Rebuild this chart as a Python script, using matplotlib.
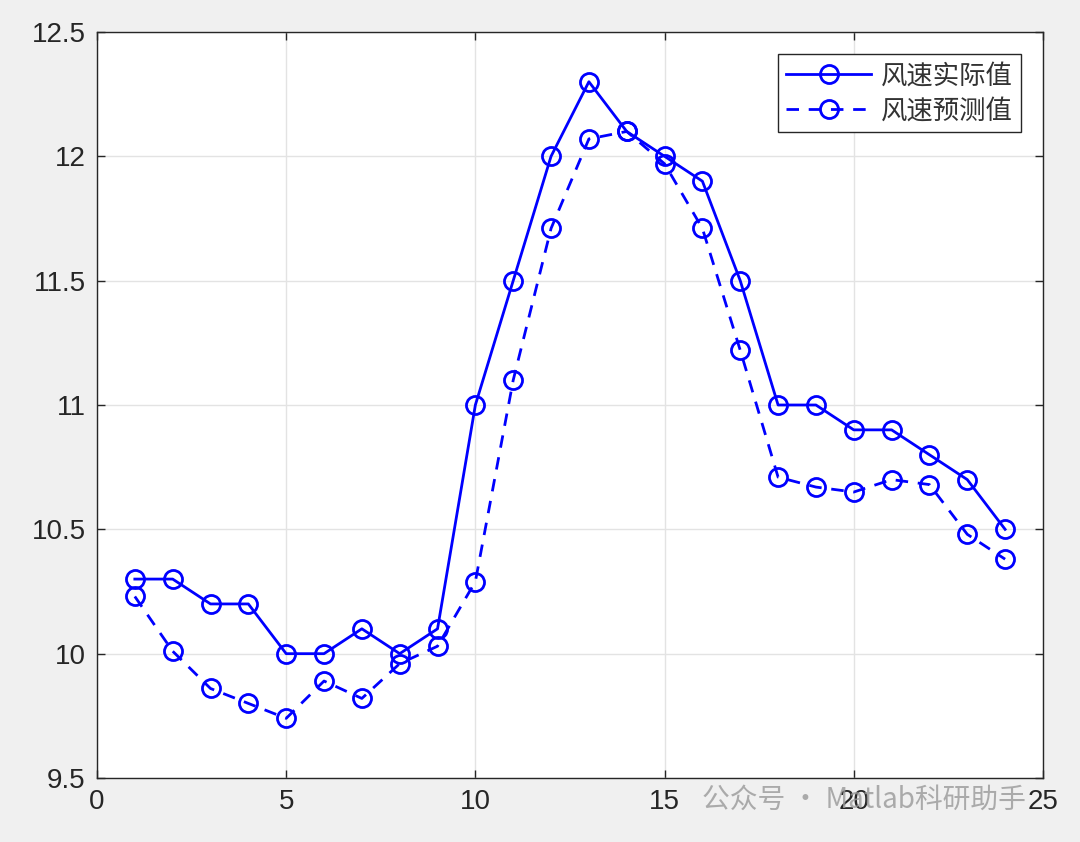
import matplotlib.pyplot as plt

hours = list(range(1, 25))
actual = [10.3, 10.3, 10.2, 10.2, 10.0, 10.0, 10.1, 10.0, 10.1, 11.0, 11.5, 12.0,
          12.3, 12.1, 12.0, 11.9, 11.5, 11.0, 11.0, 10.9, 10.9, 10.8, 10.7, 10.5]
predicted = [10.23, 10.01, 9.86, 9.80, 9.74, 9.89, 9.82, 9.96, 10.03, 10.29, 11.10, 11.71,
             12.07, 12.10, 11.97, 11.71, 11.22, 10.71, 10.67, 10.65, 10.70, 10.68, 10.48, 10.38]

plt.rcParams['font.family'] = ['Liberation Sans', 'Noto Sans CJK SC', 'DejaVu Sans']

fig = plt.figure(figsize=(10.8, 8.42), dpi=100)
fig.patch.set_facecolor('#f0f0f0')
ax = fig.add_axes([0.0898, 0.076, 0.8759, 0.886])
ax.set_facecolor('white')

ax.plot(hours, actual, '-o', color='blue', linewidth=2.0, markersize=13,
        markerfacecolor='none', markeredgewidth=2.0, label='风速实际值')
ax.plot(hours, predicted, '--o', color='blue', linewidth=2.0, markersize=13,
        markerfacecolor='none', markeredgewidth=2.0, dashes=(4.5, 3.5), label='风速预测值')

ax.set_xlim(0, 25)
ax.set_ylim(9.5, 12.5)
ax.set_xticks([0, 5, 10, 15, 20, 25])
ax.set_yticks([9.5, 10, 10.5, 11, 11.5, 12, 12.5])
ax.set_yticklabels(['9.5', '10', '10.5', '11', '11.5', '12', '12.5'])
ax.grid(True, color='#e3e3e3', linewidth=1)
ax.set_axisbelow(True)
ax.tick_params(direction='in', top=True, right=True, length=6, width=1,
               labelsize=20, labelcolor='#262626', color='#262626', pad=8)
for s in ax.spines.values():
    s.set_color('#262626')
    s.set_linewidth(1)

leg = ax.legend(loc='upper right', bbox_to_anchor=(0.977, 0.97),
                prop={'family': ['Noto Sans CJK SC'], 'size': 19},
                fancybox=False, edgecolor='#262626', framealpha=1,
                handlelength=3.2, borderpad=0.3, labelspacing=0.3, handletextpad=0.4,
                borderaxespad=0)
leg.get_frame().set_linewidth(1)
for t in leg.get_texts():
    t.set_color('#333333')

fig.text(0.65, 0.05, '公众号 · Matlab科研助手', fontsize=20, color='#999999', alpha=0.8,
         family=['Noto Sans CJK SC', 'DejaVu Sans'], va='center')

fig.savefig('out.png', dpi=100, facecolor=fig.get_facecolor())
